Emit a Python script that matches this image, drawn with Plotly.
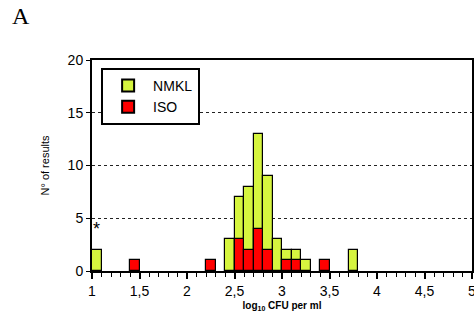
import plotly.graph_objects as go

bin_left_nmkl = [1.0, 2.4, 2.5, 2.6, 2.7, 2.8, 2.9, 3.0, 3.1, 3.2, 3.7]
nmkl_counts = [2, 3, 7, 8, 13, 9, 3, 2, 2, 1, 2]
bin_left_iso = [1.4, 2.2, 2.5, 2.6, 2.7, 2.8, 3.0, 3.1, 3.4]
iso_counts = [1, 1, 3, 2, 4, 2, 1, 1, 1]
bin_width = 0.1
x_ticks = [1, 1.5, 2, 2.5, 3, 3.5, 4, 4.5, 5]
x_labels = ["1", "1,5", "2", "2,5", "3", "3,5", "4", "4,5", "5"]
y_ticks = [0, 5, 10, 15, 20]

fig = go.Figure()
fig.add_trace(go.Bar(
    x=[b + bin_width / 2 for b in bin_left_nmkl], y=nmkl_counts, width=bin_width,
    name="NMKL", marker=dict(color="#d6f53f", line=dict(color="black", width=1.2)),
))
fig.add_trace(go.Bar(
    x=[b + bin_width / 2 for b in bin_left_iso], y=iso_counts, width=bin_width,
    name="ISO", marker=dict(color="#ff0000", line=dict(color="black", width=1.2)),
))

fig.update_layout(
    width=474, height=320,
    margin=dict(l=92, r=2, t=60, b=49),
    barmode="overlay",
    bargap=0,
    plot_bgcolor="white", paper_bgcolor="white",
    font=dict(family="Arial, Liberation Sans, sans-serif", color="black", size=13),
    showlegend=True,
    legend=dict(
        x=0.024, y=0.962, xanchor="left", yanchor="top",
        bordercolor="black", borderwidth=2, bgcolor="white",
        font=dict(size=14), itemsizing="constant",
        tracegroupgap=6, itemwidth=40,
    ),
    xaxis=dict(
        range=[1, 5], tickvals=x_ticks, ticktext=x_labels, automargin=False,
        ticklabeloverflow="allow",
        showline=True, linecolor="black", linewidth=2, mirror=True,
        ticks="outside", ticklen=6, tickwidth=1.5, tickcolor="black",
        minor=dict(dtick=0.1, ticks="outside", ticklen=4, tickwidth=1, tickcolor="black"),
        showgrid=False, zeroline=False,
        title=dict(text="<b>log<sub>10</sub> CFU per ml</b>", font=dict(size=10), standoff=4),
        tickfont=dict(size=14),
    ),
    yaxis=dict(
        range=[0, 20], tickvals=y_ticks, automargin=False,
        showline=True, linecolor="black", linewidth=2, mirror=True,
        ticks="outside", ticklen=4, tickwidth=1, tickcolor="black",
        showgrid=True, gridcolor="#222222", griddash="dot", gridwidth=1,
        zeroline=False,
        title=dict(text="N° of results", font=dict(size=11), standoff=16),
        tickfont=dict(size=14),
    ),
    annotations=[
        dict(text="A", x=-0.215, y=1.21, xref="paper", yref="paper", showarrow=False,
             font=dict(family="Liberation Serif, Times New Roman, serif", size=24),
             xanchor="left", yanchor="middle"),
        dict(text="*", x=1.05, y=4.0, xref="x", yref="y", showarrow=False,
             font=dict(size=18), xanchor="center", yanchor="middle"),
    ],
)

fig.write_html("out.html", config={"displayModeBar": False},
               post_script="document.body.style.margin='0';document.body.style.overflow='hidden';")
